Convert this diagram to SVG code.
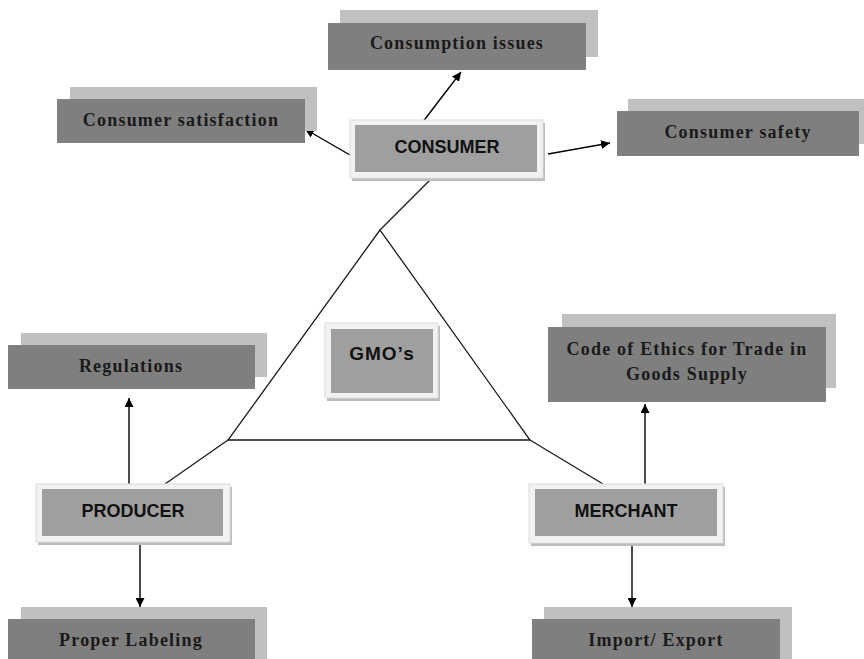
<svg xmlns="http://www.w3.org/2000/svg" width="864" height="659" viewBox="0 0 864 659">
<defs>
<marker id="ah" viewBox="0 0 10 10" refX="10" refY="5" markerWidth="9" markerHeight="9" markerUnits="userSpaceOnUse" orient="auto">
<path d="M0,0 L10,5 L0,10 z" fill="#000"/>
</marker>
<style>
.sh{fill:#c0c0c0}
.dk{fill:#7f7f7f}
.st{font-family:"Liberation Serif",serif;font-weight:bold;font-size:18px;letter-spacing:1.2px;fill:#1a1a1a;text-anchor:middle}
.fs{fill:#bdbdbd}
.fo{fill:#f2f2f2;stroke:#dcdcdc;stroke-width:1}
.fi{fill:#9f9f9f}
.ss{font-family:"Liberation Sans",Arial,sans-serif;font-weight:bold;font-size:18px;fill:#111;text-anchor:middle}
.ln{stroke:#1a1a1a;stroke-width:1.3;fill:none}
.ar{stroke:#000;stroke-width:1.4;fill:none;marker-end:url(#ah)}
</style>
</defs>
<rect width="864" height="659" fill="#fff"/>

<g id="connectors">
<line class="ln" x1="432" y1="178" x2="380" y2="230"/>
<polygon class="ln" points="380,230 228,440 530,440"/>
<line class="ln" x1="228" y1="440" x2="165" y2="484"/>
<line class="ln" x1="530" y1="440" x2="603" y2="484"/>
<line class="ar" x1="422" y1="123" x2="461" y2="72"/>
<line class="ar" x1="350" y1="155" x2="305" y2="129"/>
<line class="ar" x1="548" y1="154" x2="610" y2="143"/>
<line class="ar" x1="129" y1="484" x2="129" y2="398"/>
<line class="ar" x1="645" y1="484" x2="645" y2="404"/>
<line class="ar" x1="140" y1="542" x2="140" y2="607"/>
<line class="ar" x1="632" y1="544" x2="632" y2="607"/>
</g>

<g id="consumption-issues">
<rect class="sh" x="340" y="10" width="258" height="47"/>
<rect class="dk" x="328" y="23" width="258" height="47"/>
<text class="st" x="457" y="49">Consumption issues</text>
</g>

<g id="consumer-satisfaction">
<rect class="sh" x="70" y="87" width="247" height="44"/>
<rect class="dk" x="57" y="99" width="248" height="44"/>
<text class="st" x="181" y="126">Consumer satisfaction</text>
</g>

<g id="consumer-safety">
<rect class="sh" x="628" y="99" width="243" height="45"/>
<rect class="dk" x="617" y="111" width="242" height="45"/>
<text class="st" x="738" y="138">Consumer safety</text>
</g>

<g id="consumer">
<rect class="fs" x="352" y="123" width="193" height="58"/>
<rect class="fo" x="350" y="120" width="193" height="58"/>
<rect class="fi" x="355" y="125" width="182" height="47"/>
<text class="ss" x="447" y="153">CONSUMER</text>
</g>

<g id="gmos">
<rect class="fs" x="327" y="326" width="113" height="75"/>
<rect class="fo" x="325" y="323" width="113" height="75"/>
<rect class="fi" x="331" y="329" width="102" height="64"/>
<text class="ss" x="382" y="360" style="font-size:19px;letter-spacing:1px">GMO’s</text>
</g>

<g id="regulations">
<rect class="sh" x="21" y="333" width="246" height="44"/>
<rect class="dk" x="8" y="345" width="247" height="44"/>
<text class="st" x="131" y="372">Regulations</text>
</g>

<g id="code-of-ethics">
<rect class="sh" x="562" y="314" width="274" height="74"/>
<rect class="dk" x="548" y="327" width="278" height="75"/>
<text class="st" x="687" y="355">Code of Ethics for Trade in</text>
<text class="st" x="687" y="380">Goods Supply</text>
</g>

<g id="producer">
<rect class="fs" x="38" y="487" width="194" height="58"/>
<rect class="fo" x="36" y="484" width="194" height="58"/>
<rect class="fi" x="42" y="489" width="181" height="47"/>
<text class="ss" x="133" y="517">PRODUCER</text>
</g>

<g id="merchant">
<rect class="fs" x="531" y="487" width="194" height="59"/>
<rect class="fo" x="529" y="484" width="194" height="59"/>
<rect class="fi" x="535" y="489" width="182" height="47"/>
<text class="ss" x="626" y="517">MERCHANT</text>
</g>

<g id="proper-labeling">
<rect class="sh" x="21" y="607" width="246" height="52"/>
<rect class="dk" x="8" y="619" width="247" height="40"/>
<text class="st" x="131" y="646">Proper Labeling</text>
</g>

<g id="import-export">
<rect class="sh" x="544" y="607" width="248" height="52"/>
<rect class="dk" x="532" y="619" width="248" height="40"/>
<text class="st" x="656" y="646">Import/ Export</text>
</g>
</svg>
